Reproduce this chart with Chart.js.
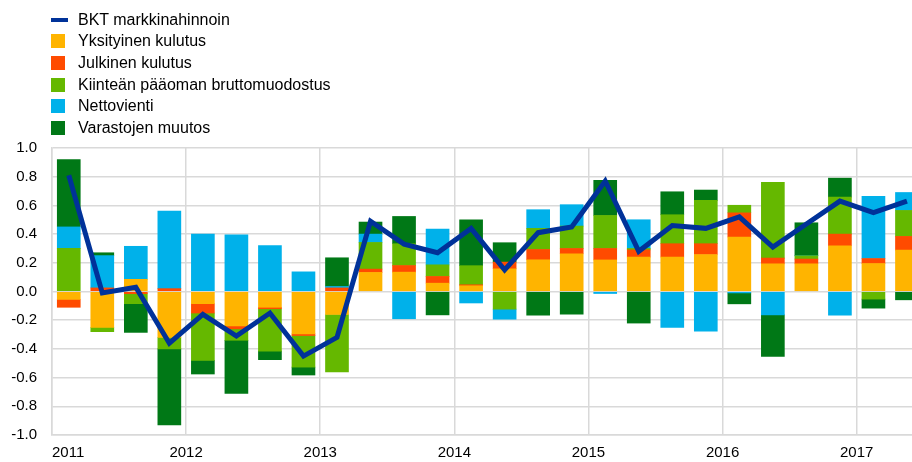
<!DOCTYPE html>
<html lang="fi">
<head>
<meta charset="utf-8">
<title>BKT ja sen osatekijät</title>
<script src="https://cdn.jsdelivr.net/npm/chart.js@4/dist/chart.umd.min.js"></script>
<style>
    body { margin: 0; background: #fff; font-family: "Liberation Sans", Arial, sans-serif; }
    #wrap { position: relative; width: 912px; height: 462px; }
    #legend { position: absolute; left: 51px; top: 9px; }
    .leg-row { display: flex; align-items: center; height: 21.6px; font-size: 16px; color: #000; white-space: nowrap; }
    .leg-mark { width: 14px; height: 14px; margin-right: 13px; }
    .leg-mark.line { width: 17px; height: 4px; margin-right: 10px; }
</style>
</head>
<body>
<div id="wrap">
    <canvas id="chart" width="912" height="462"></canvas>
    <div id="legend"></div>
</div>
<script>
const VUODET = ["2011", "2012", "2013", "2014", "2015", "2016", "2017"];

// neljännekset 2011Q1 - 2017Q2, prosenttiyksikköä
const bkt = [0.81, -0.01, 0.03, -0.36, -0.16, -0.31, -0.15, -0.45, -0.32, 0.49, 0.33, 0.27, 0.44,
    0.15, 0.41, 0.45, 0.77, 0.28, 0.46, 0.44, 0.52, 0.31, 0.47, 0.63, 0.55, 0.63];
const yksityinen = [-0.055, -0.25, 0.085, -0.32, -0.085, -0.24, -0.11, -0.295, -0.16, 0.133, 0.135, 0.058, 0.04,
    0.158, 0.221, 0.263, 0.22, 0.24, 0.24, 0.258, 0.38, 0.193, 0.193, 0.319, 0.195, 0.288];
const julkinen = [-0.055, 0.025, -0.015, 0.02, -0.065, -0.02, -0.01, -0.012, 0.025, 0.023, 0.046, 0.047, 0.007,
    0.047, 0.072, 0.037, 0.08, 0.05, 0.093, 0.075, 0.168, 0.04, 0.033, 0.081, 0.035, 0.096];
const investoinnit = [0.30, -0.03, -0.07, -0.08, -0.33, -0.08, -0.295, -0.22, -0.40, 0.186, 0.152, 0.081, 0.133,
    -0.123, 0.147, 0.156, 0.23, 0.01, 0.202, 0.302, 0.053, 0.528, 0.023, 0.258, -0.053, 0.181];
const nettovienti = [0.15, 0.225, 0.23, 0.54, 0.40, 0.395, 0.32, 0.137, 0.01, 0.058, -0.19, 0.249, -0.08,
    -0.07, 0.13, 0.149, -0.014, 0.2, -0.25, -0.277, -0.01, -0.163, 0.0, -0.165, 0.433, 0.125];
const varastot = [0.47, 0.02, -0.20, -0.53, -0.095, -0.37, -0.06, -0.055, 0.20, 0.084, 0.19, -0.163, 0.32,
    0.135, -0.165, -0.158, 0.245, -0.22, 0.16, 0.072, -0.076, -0.29, 0.23, 0.132, -0.063, -0.058];

const X_MAX = 25.65;

const SARJAT = [
    { label: "Yksityinen kulutus", data: yksityinen, color: "#ffb400" },
    { label: "Julkinen kulutus", data: julkinen, color: "#ff4b00" },
    { label: "Kiinteän pääoman bruttomuodostus", data: investoinnit, color: "#65b800" },
    { label: "Nettovienti", data: nettovienti, color: "#00b1ea" },
    { label: "Varastojen muutos", data: varastot, color: "#007816" },
];

const toPoints = (values) => values.map((v, i) => ({ x: i + 0.5, y: v }));

function renderLegend() {
    const el = document.getElementById("legend");
    const rows = [{ label: "BKT markkinahinnoin", color: "#003299", line: true }].concat(SARJAT);
    el.innerHTML = rows.map((r) => `
        <div class="leg-row"><span class="leg-mark${r.line ? " line" : ""}" style="background:${r.color}"></span>${r.label}</div>
    `).join("");
}

const GRID = "#d9d9d9";
const TICK_FONT = { family: "'Liberation Sans', Arial, sans-serif", size: 15 };

function renderChart() {
    const datasets = [{
        type: "line",
        label: "BKT markkinahinnoin",
        data: toPoints(bkt),
        borderColor: "#003299",
        borderWidth: 5,
        pointRadius: 0,
        tension: 0,
        stack: "bkt",
        order: 0,
    }].concat(SARJAT.map((s) => ({
        type: "bar",
        label: s.label,
        data: toPoints(s.data),
        backgroundColor: s.color,
        borderWidth: 0,
        barThickness: 23,
        stack: "osat",
        order: 1,
    })));

    new Chart(document.getElementById("chart"), {
        data: { datasets },
        options: {
            responsive: false,
            animation: false,
            layout: { padding: { top: 148, left: 0, right: 0, bottom: 0 } },
            plugins: { legend: { display: false }, tooltip: { enabled: false } },
            scales: {
                x: {
                    type: "linear",
                    stacked: true,
                    offset: false,
                    min: 0,
                    max: X_MAX,
                    afterBuildTicks: (scale) => {
                        scale.ticks = VUODET.map((_, i) => ({ value: i * 4 })).concat([{ value: X_MAX }]);
                    },
                    afterFit: (scale) => {
                        scale.height = 27;
                        scale.paddingLeft = 0;
                        scale.paddingRight = 0;
                    },
                    ticks: {
                        autoSkip: false,
                        maxRotation: 0,
                        align: "inner",
                        padding: 9,
                        color: "#000",
                        font: TICK_FONT,
                        callback: (value, index) => VUODET[index] || "",
                    },
                    grid: {
                        offset: false,
                        drawTicks: false,
                        lineWidth: 1.5,
                        color: (ctx) => (ctx.tick && ctx.tick.value > 24.5 ? "rgba(0,0,0,0)" : GRID),
                    },
                    border: { color: GRID, width: 1.5 },
                },
                y: {
                    stacked: true,
                    min: -1,
                    max: 1,
                    afterFit: (scale) => { scale.width = 52; },
                    ticks: {
                        stepSize: 0.2,
                        padding: 15,
                        color: "#000",
                        font: TICK_FONT,
                        callback: (v) => v.toFixed(1),
                    },
                    grid: { drawTicks: false, lineWidth: 1.5, color: GRID },
                    border: { color: GRID, width: 1.5 },
                },
            },
        },
    });
}

renderLegend();
renderChart();
</script>
</body>
</html>
